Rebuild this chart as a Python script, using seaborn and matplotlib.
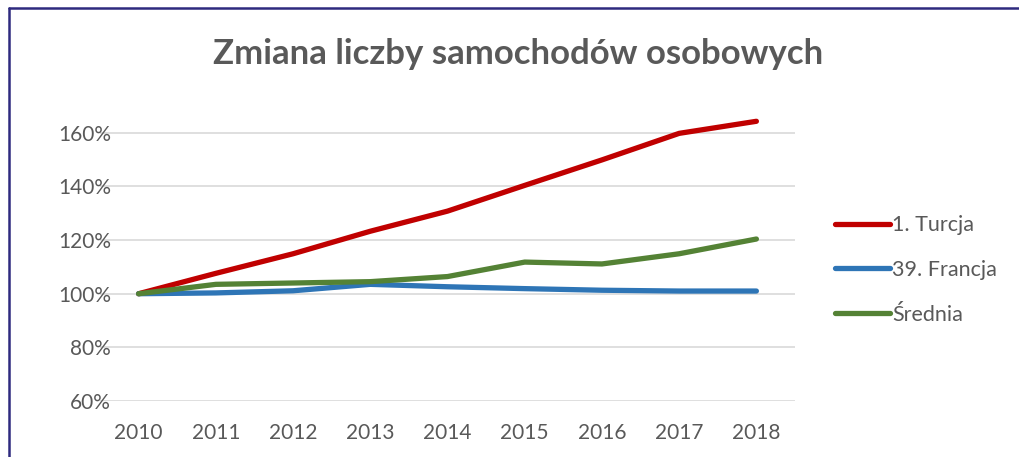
import pandas as pd
import matplotlib.pyplot as plt
import seaborn as sns
from matplotlib.ticker import PercentFormatter

years = ["2010", "2011", "2012", "2013", "2014", "2015", "2016", "2017", "2018"]
turcja = [100, 107.6, 114.9, 123.3, 130.8, 140.4, 149.9, 159.8, 164.3]
francja = [100, 100.3, 101.1, 103.5, 102.6, 101.9, 101.3, 101.0, 101.0]
srednia = [100, 103.5, 104.0, 104.5, 106.4, 111.8, 111.1, 114.9, 120.4]
series_names = ["1. Turcja", "39. Francja", "Średnia"]
colors = ["#C00000", "#2E75B6", "#548235"]

# long-form table for seaborn
df = pd.DataFrame({
    "Rok": years * 3,
    "Wartosc": turcja + francja + srednia,
    "Seria": [s for s in series_names for _ in years],
})

sns.set_theme(style="white")
plt.rcParams["font.family"] = ["Lato", "DejaVu Sans"]
text_color = "#595959"

fig = plt.figure(figsize=(10.2, 4.57), dpi=100)
ax = fig.add_axes([100 / 1020, 1 - 401 / 457, 695 / 1020, 295 / 457])

sns.lineplot(
    data=df, x="Rok", y="Wartosc", hue="Seria",
    palette=colors, linewidth=3.8, ax=ax, sort=False,
    solid_capstyle="round",
)

ax.set_xlim(-0.5, 8.5)
ax.set_ylim(60, 170)
ax.set_yticks([60, 80, 100, 120, 140, 160])
ax.yaxis.set_major_formatter(PercentFormatter(decimals=0))
ax.grid(axis="y", color="#D9D9D9", linewidth=1.2)
ax.set_axisbelow(True)
for side in ["top", "right", "left", "bottom"]:
    ax.spines[side].set_visible(False)
ax.set_xlabel("")
ax.set_ylabel("")
ax.tick_params(axis="both", length=0, labelsize=15, colors=text_color)
ax.tick_params(axis="y", pad=-8)
ax.tick_params(axis="x", pad=16)
for lbl in ax.get_yticklabels():
    lbl.set_horizontalalignment("right")

leg = ax.legend(
    loc="center left", bbox_to_anchor=(1.03, 0.444), frameon=False,
    fontsize=15.5, handlelength=2.55, handletextpad=0.1, labelspacing=1.15,
)
for t in leg.get_texts():
    t.set_color(text_color)
for h in leg.get_lines():
    h.set_linewidth(3.8)
    h.set_solid_capstyle("round")

fig.text(518 / 1020, 1 - 54 / 457, "Zmiana liczby samochodów osobowych",
         ha="center", va="center", fontsize=25, fontweight="bold", color=text_color)

# frame along the left and top edge
fig.add_artist(plt.Line2D([9 / 1020, 9 / 1020], [0, 1 - 8 / 457], transform=fig.transFigure,
                          color="#2E2A7F", linewidth=1.8))
fig.add_artist(plt.Line2D([9 / 1020, 1], [1 - 8 / 457, 1 - 8 / 457], transform=fig.transFigure,
                          color="#2E2A7F", linewidth=1.8))

fig.savefig("out.png", dpi=100, facecolor="white")
